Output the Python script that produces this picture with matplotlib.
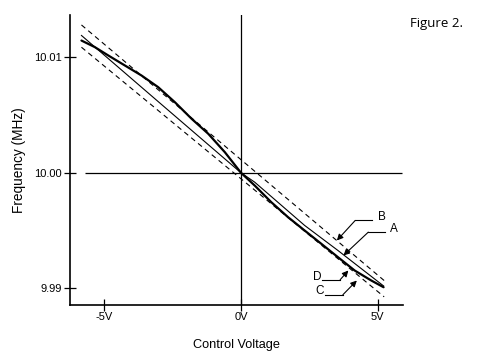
import matplotlib
matplotlib.use('Agg')
import matplotlib.pyplot as plt

plt.rcParams['font.family'] = ['Liberation Sans', 'DejaVu Sans']

# control voltage (V) and frequency (MHz)
upper_dash_v = [-5.84, 5.26]
upper_dash_f = [10.0128, 9.99063]
lower_dash_v = [-5.84, 5.24]
lower_dash_f = [10.01087, 9.98926]

thin_v = [-5.84, -3.0, 0.0, 0.5, 2.33, 3.55, 5.22]
thin_f = [10.01189, 10.0061, 10.0000, 9.99919, 9.99544, 9.99327, 9.99020]

thick_v = [-5.84, -5.35, -4.86, -4.25, -3.64, -3.03, -2.42, -1.81, -1.20, -0.59, 0.0,
           0.50, 1.11, 1.72, 2.33, 2.94, 3.55, 4.16, 4.77, 5.22]
thick_f = [10.01145, 10.01088, 10.01016, 10.00929, 10.00842, 10.00741, 10.00611,
           10.00468, 10.00338, 10.00178, 10.0000,
           9.99890, 9.99745, 9.99616, 9.99500, 9.99385, 9.99269, 9.99154, 9.99067, 9.99009]

x_ticks = [-5, 0, 5]
x_labels = ['-5V', '0V', '5V']
y_ticks = [9.99, 10.00, 10.01]
y_labels = ['9.99', '10.00', '10.01']

fig = plt.figure(figsize=(4.87, 3.55), dpi=100)
ax = fig.add_axes([0.1437, 0.1408, 0.6838, 0.8169])
ax.set_xlim(-6.26, 5.93)
ax.set_ylim(9.98855, 10.01366)

# reference axes through origin
ax.axvline(0, color='black', lw=0.9)
ax.hlines(10.0, -5.71, 5.9, color='black', lw=0.9)

ax.plot(upper_dash_v, upper_dash_f, color='black', lw=0.8, dashes=[4.5, 3.5])
ax.plot(lower_dash_v, lower_dash_f, color='black', lw=0.8, dashes=[4.5, 3.5])
ax.plot(thin_v, thin_f, color='black', lw=0.8)
ax.plot(thick_v, thick_f, color='black', lw=1.6, solid_capstyle='round',
        solid_joinstyle='round')

for s in ['top', 'right']:
    ax.spines[s].set_visible(False)
for s in ['left', 'bottom']:
    ax.spines[s].set_linewidth(1.2)

ax.set_xticks(x_ticks)
ax.set_xticklabels(x_labels)
ax.set_yticks(y_ticks)
ax.set_yticklabels(y_labels)
ax.tick_params(direction='inout', length=8, width=0.9, labelsize=8, pad=2)
ax.tick_params(axis='x', pad=1)

ax.set_xlabel('Control Voltage', fontsize=9.2, labelpad=12)
ax.set_ylabel('Frequency (MHz)', fontsize=9.8, labelpad=6)

# curve labels with leader lines
leaders = [
    ('B', (3.51, 9.99414), (4.18, 9.99587), (4.79, 9.99587), (5.0, 9.99615), 'left'),
    ('A', (3.75, 9.99284), (4.66, 9.99486), (5.27, 9.99486), (5.46, 9.99515), 'left'),
    ('D', (3.93, 9.99154), (3.63, 9.99074), (2.96, 9.99074), (2.93, 9.99100), 'right'),
    ('C', (4.24, 9.99067), (3.73, 9.98944), (3.08, 9.98944), (3.02, 9.98975), 'right'),
]
for name, tip, elbow, end, txt, ha in leaders:
    ax.plot([elbow[0], end[0]], [elbow[1], end[1]], color='black', lw=0.8,
            clip_on=False)
    ax.annotate('', xy=tip, xytext=elbow,
                arrowprops=dict(arrowstyle='-|>', color='black', lw=0.8,
                                mutation_scale=9, shrinkA=0, shrinkB=0),
                annotation_clip=False)
    ax.text(txt[0], txt[1], name, ha=ha, va='center', fontsize=8.5)

fig.text(0.951, 0.935, 'Figure 2.', ha='right', va='center', fontsize=9.5,
         family=['Open Sans', 'DejaVu Sans'])

fig.savefig('out.png', dpi=100)
